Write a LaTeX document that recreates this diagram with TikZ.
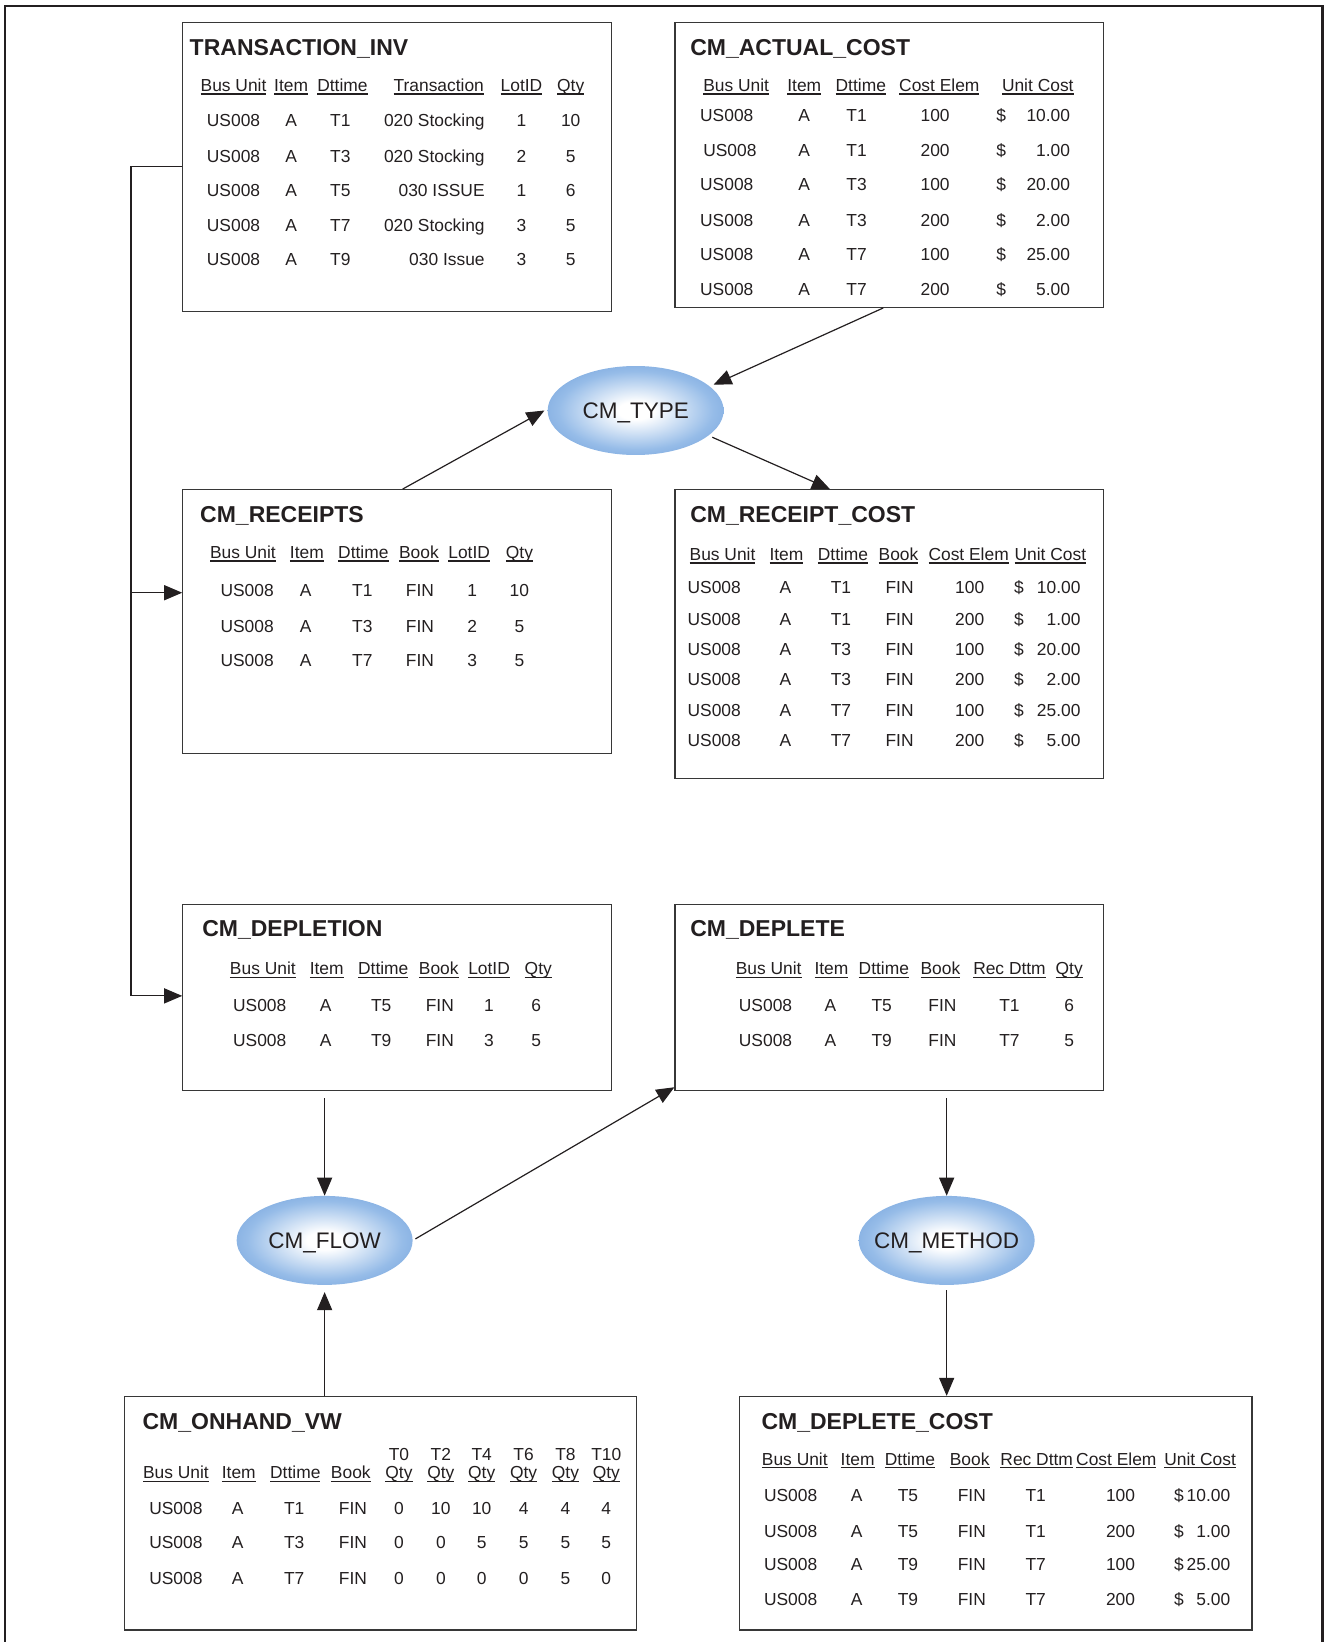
\documentclass[tikz,border=0pt]{standalone}
\usepackage{fontspec}
\setmainfont{Liberation Sans}
\usetikzlibrary{arrows.meta,shapes.geometric}

\definecolor{ink}{RGB}{35,31,32}
\definecolor{rim}{RGB}{55,55,55}
\definecolor{ovalblue}{RGB}{84,138,208}
\definecolor{ovalmid}{RGB}{150,188,232}

% soft blue glow for the process ovals
\pgfdeclareradialshading{ovalglow}{\pgfpoint{0bp}{0bp}}{%
  color(0bp)=(white); color(5bp)=(white); color(22bp)=(ovalmid);
  color(42bp)=(ovalblue); color(50bp)=(ovalblue); color(72bp)=(ovalblue)}

% underlined column heading
\newcommand\hd[1]{\setbox0=\hbox{#1}\rlap{\vrule height -2.2pt depth 3.4pt width \wd0}\box0}
% oval caption that does not enlarge the oval
\newcommand\ovaltext[1]{\makebox[0pt]{\raisebox{-0.358em}[0pt][0pt]{#1}}}
% table frame from its corners
\newcommand\tablebox[5]{\node[tbox, minimum width={(#4-#2)*1.0473pt},
  minimum height={(#5-#3)*1.0473pt}] (#1) at (#2,#3) {};}

\tikzset{
  tbox/.style={draw=rim, line width=1.1pt, rectangle, inner sep=0pt, anchor=north west},
  ttl/.style={font=\fontsize{23}{27}\selectfont\bfseries, text=ink, anchor=base west, inner sep=0pt},
  tcell/.style={font=\fontsize{17.4}{20}\selectfont, text=ink, anchor=base, inner sep=0pt},
  rcell/.style={tcell, anchor=base east},
  lcell/.style={tcell, anchor=base west},
  oval/.style={ellipse, inner sep=0pt, minimum width=176pt, minimum height=89pt,
    shade, shading=ovalglow, font=\fontsize{22.5}{26}\selectfont, text=ink},
  link/.style={draw=ink, line width=1.2pt, -{Triangle[length=18pt,width=15pt]}},
  frame/.style={draw=ink, line width=2.3pt},
}

\begin{document}
\begin{tikzpicture}[x=1.0473pt, y=-1.0473pt]
\useasboundingbox (0,0) rectangle (1269,1568);

% page frame
\draw[frame] (5,1580) -- (5,6) -- (1263,6) -- (1263,1580);

% ---------- TRANSACTION_INV ----------
\tablebox{tinv}{174}{21}{583}{297}
\node[ttl] (tinv-t) at (181,53) {TRANSACTION\_INV};
\foreach \x/\h [count=\i] in {223/Bus Unit,278/Item,327/Dttime,419/Transaction,498/LotID,545/Qty}
  \node[tcell] (tinv-h\i) at (\x,87) {\hd{\h}};
\foreach \yy/\dt/\tr/\lot/\q [count=\i] in {121/T1/020 Stocking/1/10,155/T3/020 Stocking/2/5,188/T5/030 ISSUE/1/6,221/T7/020 Stocking/3/5,254/T9/030 Issue/3/5}{
  \node[tcell] (tinv-\i-a) at (223,\yy) {US008};
  \node[tcell] (tinv-\i-b) at (278,\yy) {A};
  \node[tcell] (tinv-\i-c) at (325,\yy) {\dt};
  \node[rcell] (tinv-\i-d) at (463,\yy) {\tr};
  \node[tcell] (tinv-\i-e) at (498,\yy) {\lot};
  \node[tcell] (tinv-\i-f) at (545,\yy) {\q};
}

% ---------- CM_ACTUAL_COST ----------
\tablebox{acost}{644}{21}{1053}{293}
\node[ttl] (acost-t) at (659,53) {CM\_ACTUAL\_COST};
\foreach \x/\h [count=\i] in {703/Bus Unit,768/Item,822/Dttime,897/Cost Elem,991/Unit Cost}
  \node[tcell] (acost-h\i) at (\x,87) {\hd{\h}};
\foreach \yy/\bx/\dt/\ce/\uc [count=\i] in {116/694/T1/100/10.00,149/697/T1/200/1.00,182/694/T3/100/20.00,216/694/T3/200/2.00,249/694/T7/100/25.00,282/694/T7/200/5.00}{
  \node[tcell] (acost-\i-a) at (\bx,\yy) {US008};
  \node[tcell] (acost-\i-b) at (768,\yy) {A};
  \node[tcell] (acost-\i-c) at (818,\yy) {\dt};
  \node[tcell] (acost-\i-d) at (893,\yy) {\ce};
  \node[tcell] (acost-\i-e) at (956,\yy) {\$};
  \node[rcell] (acost-\i-f) at (1022,\yy) {\uc};
}

% ---------- CM_RECEIPTS ----------
\tablebox{rcpt}{174}{467}{583}{719}
\node[ttl] (rcpt-t) at (191,499) {CM\_RECEIPTS};
\foreach \x/\h [count=\i] in {232/Bus Unit,293/Item,347/Dttime,400/Book,448/LotID,496/Qty}
  \node[tcell] (rcpt-h\i) at (\x,533) {\hd{\h}};
\foreach \yy/\dt/\lot/\q [count=\i] in {570/T1/1/10,604/T3/2/5,636/T7/3/5}{
  \node[tcell] (rcpt-\i-a) at (236,\yy) {US008};
  \node[tcell] (rcpt-\i-b) at (292,\yy) {A};
  \node[tcell] (rcpt-\i-c) at (346,\yy) {\dt};
  \node[tcell] (rcpt-\i-d) at (401,\yy) {FIN};
  \node[tcell] (rcpt-\i-e) at (451,\yy) {\lot};
  \node[tcell] (rcpt-\i-f) at (496,\yy) {\q};
}

% ---------- CM_RECEIPT_COST ----------
\tablebox{rcost}{644}{467}{1053}{743}
\node[ttl] (rcost-t) at (659,499) {CM\_RECEIPT\_COST};
\foreach \x/\h [count=\i] in {690/Bus Unit,751/Item,805/Dttime,858/Book,925/Cost Elem,1003/Unit Cost}
  \node[tcell] (rcost-h\i) at (\x,535) {\hd{\h}};
\foreach \yy/\dt/\ce/\uc [count=\i] in {567/T1/100/10.00,597/T1/200/1.00,626/T3/100/20.00,655/T3/200/2.00,684/T7/100/25.00,713/T7/200/5.00}{
  \node[tcell] (rcost-\i-a) at (682,\yy) {US008};
  \node[tcell] (rcost-\i-b) at (750,\yy) {A};
  \node[tcell] (rcost-\i-c) at (803,\yy) {\dt};
  \node[tcell] (rcost-\i-d) at (859,\yy) {FIN};
  \node[tcell] (rcost-\i-e) at (926,\yy) {\ce};
  \node[tcell] (rcost-\i-f) at (973,\yy) {\$};
  \node[rcell] (rcost-\i-g) at (1032,\yy) {\uc};
}

% ---------- CM_DEPLETION ----------
\tablebox{dpln}{174}{863}{583}{1041}
\node[ttl] (dpln-t) at (193,894) {CM\_DEPLETION};
\foreach \x/\h [count=\i] in {251/Bus Unit,312/Item,366/Dttime,419/Book,467/LotID,514/Qty}
  \node[tcell] (dpln-h\i) at (\x,931) {\hd{\h}};
\foreach \yy/\dt/\lot/\q [count=\i] in {966/T5/1/6,999/T9/3/5}{
  \node[tcell] (dpln-\i-a) at (248,\yy) {US008};
  \node[tcell] (dpln-\i-b) at (311,\yy) {A};
  \node[tcell] (dpln-\i-c) at (364,\yy) {\dt};
  \node[tcell] (dpln-\i-d) at (420,\yy) {FIN};
  \node[tcell] (dpln-\i-e) at (467,\yy) {\lot};
  \node[tcell] (dpln-\i-f) at (512,\yy) {\q};
}

% ---------- CM_DEPLETE ----------
\tablebox{dplt}{644}{863}{1053}{1041}
\node[ttl] (dplt-t) at (659,894) {CM\_DEPLETE};
\foreach \x/\h [count=\i] in {734/Bus Unit,794/Item,844/Dttime,898/Book,964/Rec Dttm,1021/Qty}
  \node[tcell] (dplt-h\i) at (\x,931) {\hd{\h}};
\foreach \yy/\dt/\rd/\q [count=\i] in {966/T5/T1/6,999/T9/T7/5}{
  \node[tcell] (dplt-\i-a) at (731,\yy) {US008};
  \node[tcell] (dplt-\i-b) at (793,\yy) {A};
  \node[tcell] (dplt-\i-c) at (842,\yy) {\dt};
  \node[tcell] (dplt-\i-d) at (900,\yy) {FIN};
  \node[tcell] (dplt-\i-e) at (964,\yy) {\rd};
  \node[tcell] (dplt-\i-f) at (1021,\yy) {\q};
}

% ---------- CM_ONHAND_VW ----------
\tablebox{onhand}{118}{1333}{607}{1556}
\node[ttl] (onhand-t) at (136,1365) {CM\_ONHAND\_VW};
\foreach \x/\h [count=\i] in {168/Bus Unit,228/Item,282/Dttime,335/Book}
  \node[tcell] (onhand-h\i) at (\x,1412) {\hd{\h}};
\foreach \x/\h [count=\i] in {381/T0,421/T2,460/T4,500/T6,540/T8,579/T10}{
  \node[tcell] (onhand-p\i) at (\x,1395) {\h};
  \node[tcell] (onhand-q\i) at (\x,1412) {\hd{Qty}};
}
\foreach \yy/\dt/\qa/\qb/\qc/\qd/\qe/\qf [count=\i] in {1446/T1/0/10/10/4/4/4,1479/T3/0/0/5/5/5/5,1513/T7/0/0/0/0/5/0}{
  \node[tcell] (onhand-\i-a) at (168,\yy) {US008};
  \node[tcell] (onhand-\i-b) at (227,\yy) {A};
  \node[tcell] (onhand-\i-c) at (281,\yy) {\dt};
  \node[tcell] (onhand-\i-d) at (337,\yy) {FIN};
  \node[tcell] (onhand-\i-e) at (381,\yy) {\qa};
  \node[tcell] (onhand-\i-f) at (421,\yy) {\qb};
  \node[tcell] (onhand-\i-g) at (460,\yy) {\qc};
  \node[tcell] (onhand-\i-h) at (500,\yy) {\qd};
  \node[tcell] (onhand-\i-i) at (540,\yy) {\qe};
  \node[tcell] (onhand-\i-j) at (579,\yy) {\qf};
}

% ---------- CM_DEPLETE_COST ----------
\tablebox{dcost}{706}{1333}{1195}{1556}
\node[ttl] (dcost-t) at (727,1365) {CM\_DEPLETE\_COST};
\foreach \x/\h [count=\i] in {759/Bus Unit,819/Item,869/Dttime,926/Book,990/Rec Dttm,1066/Cost Elem,1146/Unit Cost}
  \node[tcell] (dcost-h\i) at (\x,1399) {\hd{\h}};
\foreach \yy/\dt/\rd/\ce/\uc [count=\i] in {1434/T5/T1/100/10.00,1468/T5/T1/200/1.00,1500/T9/T7/100/25.00,1533/T9/T7/200/5.00}{
  \node[tcell] (dcost-\i-a) at (755,\yy) {US008};
  \node[tcell] (dcost-\i-b) at (818,\yy) {A};
  \node[tcell] (dcost-\i-c) at (867,\yy) {\dt};
  \node[tcell] (dcost-\i-d) at (928,\yy) {FIN};
  \node[tcell] (dcost-\i-e) at (989,\yy) {\rd};
  \node[tcell] (dcost-\i-f) at (1070,\yy) {\ce};
  \node[lcell] (dcost-\i-g) at (1121,\yy) {\$};
  \node[rcell] (dcost-\i-h) at (1175,\yy) {\uc};
}

% ---------- process ovals ----------
\node[oval] (type)   at (607,392)    {\ovaltext{CM\_TYPE}};
\node[oval] (flow)   at (310,1184.5) {\ovaltext{CM\_FLOW}};
\node[oval] (method) at (904,1184.5) {\ovaltext{CM\_METHOD}};

% ---------- data flow ----------
\coordinate (j1) at (125,159);
\coordinate (j2) at (125,566);
\coordinate (j3) at (125,951);
\draw[link] (tinv.west |- j1) -- (j1) -- (j3) -- (dpln.west |- j3);
\draw[link] (j2) -- (rcpt.west |- j2);

\draw[link, shorten >=4pt] ([xshift=-5.8pt]acost.south) -- (type.18);
\draw[link] ([xshift=5.8pt]rcpt.north) -- ([xshift=-3pt]type.west);
\draw[link, shorten <=4pt] (type.-19) -- ([xshift=-59.2pt]rcost.north);

\draw[link, shorten <=7pt] (dpln.south -| flow.north) -- (flow.north);
\draw[link, shorten <=3pt] (flow.east) -- ([yshift=4pt]dplt.south west);
\draw[link, shorten <=7pt] (dplt.south -| method.north) -- (method.north);
\draw[link, shorten <=5pt] (method.south) -- (method.south |- dcost.north);
\draw[link, shorten >=7pt] (onhand.north -| flow.south) -- (flow.south);
\end{tikzpicture}
\end{document}
